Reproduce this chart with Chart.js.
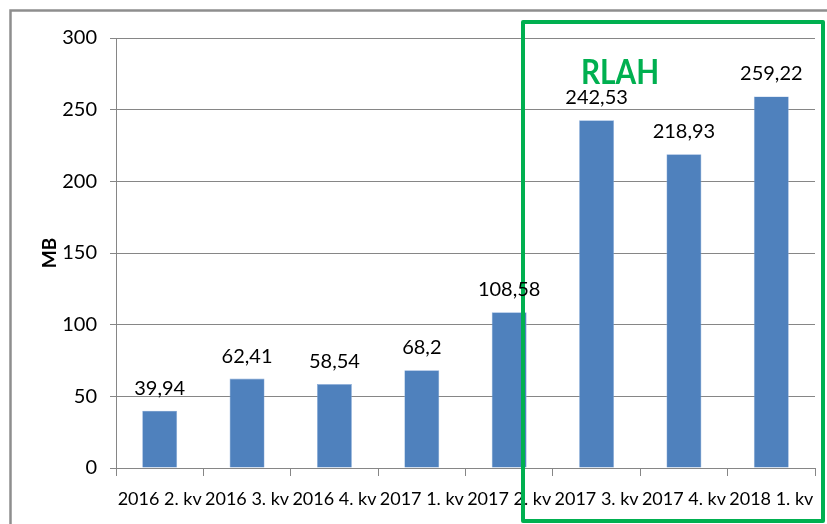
<!DOCTYPE html>
<html>
<head>
<meta charset="utf-8">
<script src="https://cdn.jsdelivr.net/npm/chart.js@4"></script>
<style>
  html, body { margin: 0; padding: 0; background: #fff; }
  #wrap { width: 827px; height: 524px; }
</style>
</head>
<body>
<div id="wrap"><canvas id="data-bar" width="827" height="524"></canvas></div>
<script>
// quarters and mobile data per user (MB)
var quarters = ["2016 2. kv", "2016 3. kv", "2016 4. kv", "2017 1. kv", "2017 2. kv", "2017 3. kv", "2017 4. kv", "2018 1. kv"];
var dataMB = [39.94, 62.41, 58.54, 68.2, 108.58, 242.53, 218.93, 259.22];
var yTicks = [0, 50, 100, 150, 200, 250, 300];

var FONT = "Lato, sans-serif";

// value labels above the bars, czech decimal comma
var valueLabels = {
  id: 'valueLabels',
  afterDatasetsDraw: function (chart) {
    var ctx = chart.ctx;
    var meta = chart.getDatasetMeta(0);
    ctx.save();
    ctx.font = "20px " + FONT;
    ctx.fillStyle = "#000";
    ctx.textAlign = "center";
    ctx.textBaseline = "alphabetic";
    meta.data.forEach(function (bar, i) {
      var txt = String(dataMB[i]).replace(".", ",");
      ctx.fillText(txt, bar.x, bar.y - 16);
    });
    ctx.restore();
  }
};

// outer frame + green RLAH box
var decorations = {
  id: 'decorations',
  beforeDraw: function (chart) {
    var ctx = chart.ctx;
    ctx.save();
    ctx.fillStyle = "#fff";
    ctx.fillRect(0, 0, chart.width, chart.height);
    ctx.strokeStyle = "#8e8e8e";
    ctx.lineWidth = 2.5;
    ctx.beginPath();
    ctx.moveTo(10.5, chart.height + 5);
    ctx.lineTo(10.5, 10.5);
    ctx.lineTo(chart.width + 5, 10.5);
    ctx.stroke();
    ctx.restore();
  },
  afterDatasetsDraw: function (chart) {
    var ctx = chart.ctx;
    ctx.save();
    ctx.strokeStyle = "#00b050";
    ctx.lineWidth = 4;
    ctx.lineJoin = "round";
    ctx.strokeRect(523, 22, 300, 499);
    ctx.fillStyle = "#00b050";
    ctx.font = "bold 35px " + FONT;
    ctx.textAlign = "center";
    ctx.textBaseline = "alphabetic";
    ctx.translate(620, 84);
    ctx.scale(0.85, 1);
    ctx.fillText("RLAH", 0, 0);
    ctx.restore();
  }
};

new Chart(document.getElementById("data-bar"), {
  type: 'bar',
  data: {
    labels: quarters,
    datasets: [{
      label: "MB",
      data: dataMB,
      backgroundColor: "#4f81bd",
      borderColor: "#8eb0dc",
      borderWidth: 0.6,
      barPercentage: 0.4,
      categoryPercentage: 1
    }]
  },
  options: {
    responsive: false,
    animation: false,
    layout: { padding: { top: 38, right: 12, bottom: 0, left: 0 } },
    plugins: {
      legend: { display: false },
      tooltip: { enabled: false }
    },
    scales: {
      x: {
        grid: { offset: true, drawOnChartArea: false, drawTicks: true, tickLength: 8, color: "#868686" },
        border: { display: true, color: "#868686" },
        ticks: { color: "#000", font: { family: FONT, size: 18 }, padding: 12, maxRotation: 0, autoSkip: false },
        afterFit: function (s) { s.height = 56; }
      },
      y: {
        min: 0,
        max: 300,
        afterBuildTicks: function (s) { s.ticks = yTicks.map(function (v) { return { value: v }; }); },
        grid: { color: "#868686", tickLength: 6 },
        border: { display: true, color: "#868686" },
        ticks: { color: "#000", font: { family: FONT, size: 20 }, padding: 13 },
        title: { display: true, text: "MB", color: "#000", font: { family: FONT, size: 19, weight: "bold" }, padding: { top: 38 } },
        afterFit: function (s) { s.width = 116; }
      }
    }
  },
  plugins: [decorations, valueLabels]
});
</script>
</body>
</html>
